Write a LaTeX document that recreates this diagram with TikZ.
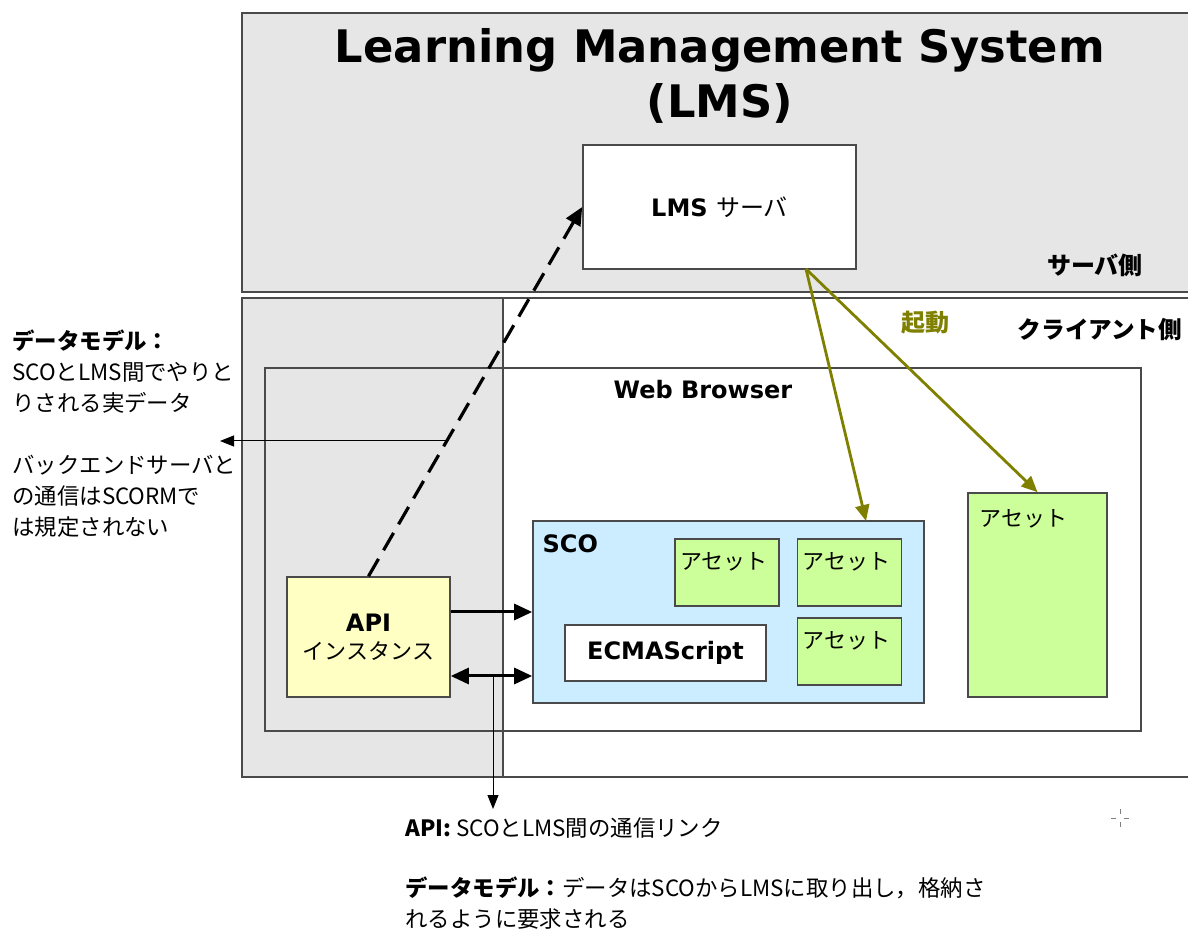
\documentclass[tikz,border=0pt]{standalone}
\usepackage{fontspec}
\setmainfont{DejaVu Sans}
\newfontfamily\jp{Noto Sans CJK JP}
\usetikzlibrary{arrows.meta,calc}
\definecolor{panelgray}{HTML}{E6E6E6}
\definecolor{edgegray}{HTML}{4A4A4A}
\definecolor{apiyellow}{HTML}{FFFFC4}
\definecolor{scoblue}{HTML}{CCECFF}
\definecolor{assetgreen}{HTML}{CCFF99}
\definecolor{launcholive}{HTML}{808000}
\newcommand{\fs}[2]{\fontsize{#1}{#2}\selectfont}
\tikzset{
  box/.style={draw=edgegray, line width=0.8pt, inner sep=0pt},
  assetbox/.style={box, fill=assetgreen, minimum width=52pt, minimum height=33.5pt},
  jplabel/.style={font=\jp\fs{11pt}{13pt}, inner sep=0pt},
  boldlabel/.style={font=\bfseries\fs{12pt}{14pt}, inner sep=0pt},
  noteline/.style={draw=black, line width=0.5pt, -{Triangle[length=7pt,width=5.5pt]}},
  callarrow/.style={draw=black, line width=1.5pt, -{Triangle[length=9pt,width=8pt]}},
  bothways/.style={draw=black, line width=1.5pt, {Triangle[length=9pt,width=8pt]}-{Triangle[length=9pt,width=8pt]}},
  launch/.style={draw=launcholive, line width=1.4pt, -{Triangle[length=8pt,width=7pt]}},
  notetext/.style={font=\jp\fs{11.2pt}{15.5pt}, inner sep=0pt, align=left}
}
\begin{document}
\begin{tikzpicture}[x=0.5pt,y=-0.5pt]
\useasboundingbox (0,0) rectangle (1188,929);

% server side region
\path[fill=panelgray, draw=edgegray, line width=1pt] (1196,292) -- (242,292) -- (242,13) -- (1196,13);
% client side region with its grey left strip
\path[fill=white] (242,298) rectangle (1196,777);
\path[fill=panelgray] (242,298) rectangle (503,777);
\draw[edgegray, line width=1pt] (1196,298) -- (242,298) -- (242,777) -- (1196,777);
\draw[edgegray, line width=0.6pt] (503,298) -- (503,777);

% title
\node[font=\bfseries\fs{22.4pt}{27.5pt}, align=center, inner sep=0pt] (title) at (720,76)
  {Learning Management System\\(LMS)};

% side captions
\node[font=\jp\bfseries\fs{12pt}{14pt}, inner sep=0pt] (srvside) at (1095,265) {サーバ側};
\node[font=\jp\bfseries\fs{11.8pt}{14pt}, inner sep=0pt] (cltside) at (1100,330) {クライアント側};

% LMS server
\node[box, fill=white, minimum width=136.5pt, minimum height=62pt] (lms) at (719.5,207)
  {\bfseries\fs{12pt}{14pt}LMS {\jp\mdseries サーバ}};

% web browser frame
\node[box, minimum width=438pt, minimum height=181.5pt] (wb) at (703,549.5) {};
\node[boldlabel] (wblabel) at ($(wb.north)+(0,22)$) {Web Browser};

% SCO and its contents
\node[box, fill=scoblue, minimum width=195.5pt, minimum height=91pt] (sco) at (728.5,612) {};
\node[boldlabel, anchor=west] (scolabel) at ($(sco.north west)+(10,24)$) {SCO};
\node[assetbox] (a1) at (727,572.5) {};
\node[assetbox] (a2) at (849.5,572.5) {};
\node[assetbox] (a3) at (849.5,651.5) {};
\node[jplabel] (a1t) at ($(a1.north)+(-3,24)$) {アセット};
\node[jplabel] (a2t) at ($(a2.north)+(-3,24)$) {アセット};
\node[jplabel] (a3t) at ($(a3.north)+(-3,24)$) {アセット};
\node[box, fill=white, minimum width=100.5pt, minimum height=28pt] (ecma) at (665.5,653)
  {\bfseries\fs{12pt}{14pt}ECMAScript};

% stand-alone asset
\node[box, fill=assetgreen, minimum width=69.5pt, minimum height=102pt] (big) at (1037.5,595) {};
\node[jplabel, anchor=west] (bigt) at ($(big.north west)+(12,27)$) {アセット};

% API instance
\node[box, fill=apiyellow, minimum width=81.5pt, minimum height=60pt, align=center] (api) at (368.5,637)
  {\bfseries\fs{12pt}{14pt}API\\[2pt]{\jp\mdseries\fs{11pt}{13pt}インスタンス}};

% launch arrows
\coordinate (lmsout) at (806,269);
\coordinate (scoin) at (866,521);
\draw[launch] (lmsout) -- (scoin);
\draw[launch] (lmsout) -- (big.north);
\node[font=\jp\bfseries\fs{12pt}{14pt}, text=launcholive, inner sep=0pt] (kidou) at (925,323) {起動};

% API to LMS server link
\draw[black, line width=1.6pt, dash pattern=on 10pt off 5pt, -{Triangle[length=9pt,width=8pt]}]
  (api.north) -- (lms.west);

% API to SCO calls
\coordinate (callout) at ($(api.east)+(0,-25)$);
\coordinate (dataout) at ($(api.east)+(0,39)$);
\draw[callarrow] (callout) -- (callout -| sco.west);
\draw[bothways] (dataout) -- (dataout -| sco.west);

% note pointers
\coordinate (tap) at (493,676);
\coordinate (apinote) at (493,809);
\draw[noteline] (tap) -- (apinote);
\coordinate (dmfrom) at (447,441);
\coordinate (dmto) at (220,441);
\draw[noteline] (dmfrom) -- (dmto);

% left notes
\node[notetext, anchor=north west] (leftnote1) at (12,329)
  {{\bfseries データモデル：}\\SCOとLMS間でやりと\\りされる実データ};
\node[notetext, anchor=north west] (leftnote2) at (12,455)
  {バックエンドサーバと\\の通信はSCORMで\\は規定されない};

% bottom notes
\node[notetext, anchor=north west] (botnote1) at (405,817)
  {{\bfseries API:} SCOとLMS間の通信リンク};
\node[notetext, anchor=north west] (botnote2) at (405,876)
  {{\bfseries データモデル：}データはSCOからLMSに取り出し，格納さ\\れるように要求される};

% pointer cross
\draw[gray, line width=0.5pt] (1111,818) -- (1116,818) (1124,818) -- (1129,818)
  (1120,809) -- (1120,814) (1120,822) -- (1120,827);
\end{tikzpicture}
\end{document}
